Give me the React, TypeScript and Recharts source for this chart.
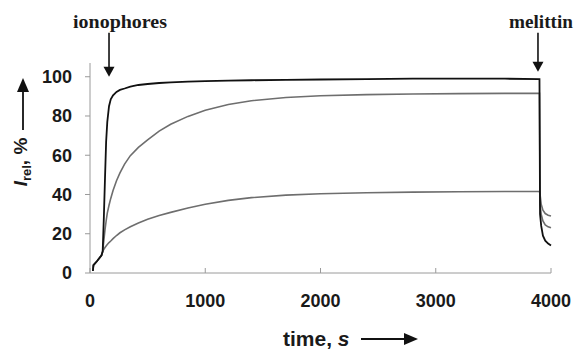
import React from 'react';
import { LineChart, Line, XAxis, YAxis, ReferenceDot } from 'recharts';

// time points, s (shared by the three traces)
const times = [
  25, 30, 60, 100, 110, 120, 130, 140, 150, 165, 180, 200, 230, 260, 300, 350, 420, 500, 600, 700,
  850, 1000, 1200, 1400, 1700, 2000, 2400, 2800, 3200, 3600, 3900, 3905, 3915, 3930, 3950, 3975, 4000,
];

// relative intensity, %
const fastTrace = [
  1, 4, 6, 9, 11, 28, 48, 67, 77, 85, 88.5, 90.5, 92.3, 93.3, 94, 95, 95.8, 96.3, 96.8, 97.1,
  97.5, 97.8, 98, 98.2, 98.4, 98.6, 98.8, 99, 99, 99, 98.8, 30, 24, 19, 16.5, 15, 14,
];
const midTrace = [
  1, 4, 6, 9, 11, 16.5, 22, 26.5, 30.5, 34.5, 38, 42, 47, 51, 55.5, 59.8, 64, 67.8, 72.3, 75.8,
  79.8, 82.9, 85.9, 87.8, 89.4, 90.3, 90.9, 91.2, 91.4, 91.5, 91.5, 35, 30, 26.5, 24.5, 23.5, 23,
];
const slowTrace = [
  1, 4, 6, 9, 11, 12, 13, 13.8, 14.5, 15.5, 16.3, 17.5, 19.1, 20.5, 22, 23.6, 25.5, 27.4, 29.3, 30.9,
  33.1, 35, 37, 38.4, 39.7, 40.4, 40.9, 41.2, 41.4, 41.5, 41.5, 40, 35, 32, 30.3, 29.4, 29,
];

const xTicks = [0, 1000, 2000, 3000, 4000];
const yTicks = [0, 20, 40, 60, 80, 100];

// additions marked with arrows
const ionophoreTime = 165;
const melittinTime = 3887;

const data = times.map((t, i) => ({ t, fast: fastTrace[i], mid: midTrace[i], slow: slowTrace[i] }));

const sans = '"Liberation Sans", Arial, sans-serif';
const serif = '"Liberation Serif", "Times New Roman", serif';

// x ticks point up into the plot, labels below
const XTick = (props: any) => {
  const { x, y, payload } = props;
  return (
    <g>
      <line x1={x} x2={x} y1={y} y2={y - 5} stroke="#9a9a9a" />
      <text x={x} y={y + 34} textAnchor="middle" fontFamily={sans} fontWeight="bold" fontSize={18} fill="#1a1a1a">
        {payload.value}
      </text>
    </g>
  );
};

// down arrow with a caption above it
const Marker = (props: any) => {
  const { cx, cy, caption, gap, textDx, textW } = props;
  const tip = cy - gap;
  return (
    <g>
      <line x1={cx} x2={cx} y1={tip - 44 + gap} y2={tip - 9} stroke="#111" strokeWidth={1.6} />
      <polygon points={`${cx - 5.5},${tip - 10} ${cx + 5.5},${tip - 10} ${cx},${tip}`} fill="#111" />
      <text
        x={cx + textDx}
        y={tip - 49 + gap}
        textAnchor="middle"
        fontFamily={serif}
        fontWeight="bold"
        fontSize={18}
        fill="#1a1a1a"
        textLength={textW}
        lengthAdjust="spacingAndGlyphs"
      >
        {caption}
      </text>
    </g>
  );
};

export default function App() {
  return (
    <div style={{ position: 'absolute', left: 0, top: 0, width: 577, height: 351, background: '#fff' }}>
      <LineChart width={577} height={351} data={data} margin={{ top: 63, right: 26, bottom: 38, left: 30 }}>
        <XAxis
          dataKey="t"
          type="number"
          domain={[0, 4000]}
          ticks={xTicks}
          stroke="#9a9a9a"
          tickLine={false}
          tickSize={0}
          tickMargin={0}
          height={40}
          tick={<XTick />}
        />
        <YAxis
          type="number"
          domain={[0, 107]}
          ticks={yTicks}
          width={60}
          stroke="#9a9a9a"
          tickSize={5}
          tickMargin={13}
          tick={{ fontFamily: sans, fontWeight: 'bold', fontSize: 18, fill: '#1a1a1a' }}
        />
        <Line type="linear" dataKey="slow" stroke="#6e6e6e" strokeWidth={1.6} dot={false} isAnimationActive={false} />
        <Line type="linear" dataKey="mid" stroke="#6e6e6e" strokeWidth={1.6} dot={false} isAnimationActive={false} />
        <Line type="linear" dataKey="fast" stroke="#111" strokeWidth={1.8} dot={false} isAnimationActive={false} />
        <ReferenceDot
          x={ionophoreTime}
          y={100}
          shape={(p: any) => <Marker {...p} caption="ionophores" gap={0} textDx={11} textW={94} />}
        />
        <ReferenceDot
          x={melittinTime}
          y={100}
          shape={(p: any) => <Marker {...p} caption="melittin" gap={5} textDx={3} textW={64} />}
        />
      </LineChart>
      <svg width={577} height={351} style={{ position: 'absolute', left: 0, top: 0, pointerEvents: 'none' }}>
        {/* y axis title */}
        <g transform="rotate(-90 27 162)">
          <text x={27} y={162} textAnchor="middle" fontFamily={sans} fontWeight="bold" fontSize={19} fill="#1a1a1a">
            <tspan fontStyle="italic">I</tspan>
            <tspan fontSize={13} dy={4}>rel</tspan>
            <tspan dy={-4}>, %</tspan>
          </text>
        </g>
        <line x1={23} x2={23} y1={130} y2={90} stroke="#111" strokeWidth={1.8} />
        <polygon points="17,92 29,92 23,78" fill="#111" />
        {/* x axis title */}
        <text x={283} y={346} fontFamily={sans} fontWeight="bold" fontSize={21} fill="#1a1a1a">
          time, <tspan fontStyle="italic">s</tspan>
        </text>
        <line x1={361} x2={406} y1={339} y2={339} stroke="#111" strokeWidth={1.8} />
        <polygon points="404,333 404,345 418,339" fill="#111" />
      </svg>
    </div>
  );
}
